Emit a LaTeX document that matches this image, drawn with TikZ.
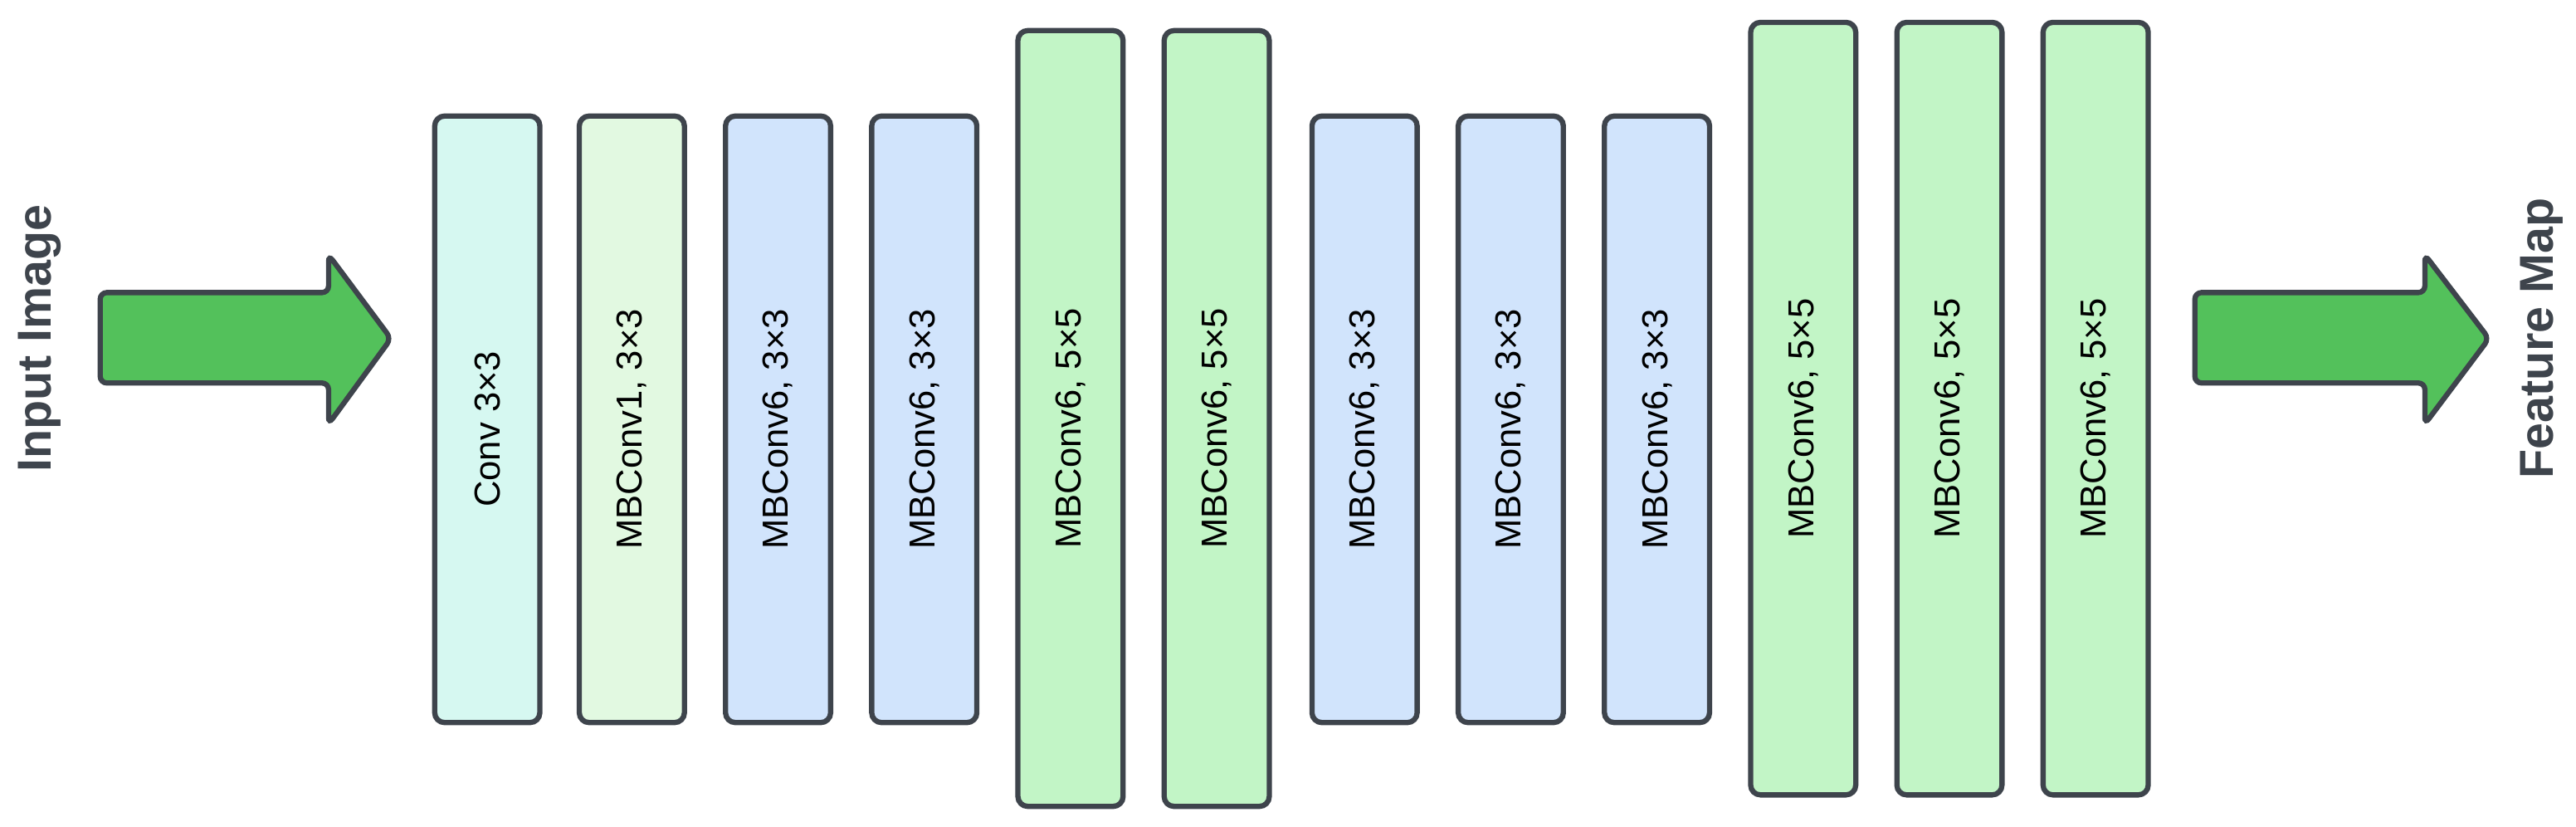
\documentclass[tikz,border=0pt]{standalone}
\usepackage{fontspec}
\setmainfont{Liberation Sans}
\begin{document}
\begin{tikzpicture}[x=1pt,y=-1pt,
  blk/.style={draw=edge,line width=3.2pt,rounded corners=6pt,minimum width=64pt,anchor=north west,inner sep=0pt},
  lbl/.style={rotate=90,font=\fontsize{22}{24}\selectfont,text=black},
  side/.style={rotate=90,font=\bfseries\fontsize{29}{32}\selectfont,text=edge},
  arr/.style={draw=edge,line width=3.2pt,fill=arrg,rounded corners=4pt}]
\definecolor{edge}{HTML}{3E444C}
\definecolor{cconv}{HTML}{D6F8F1}
\definecolor{cmb1}{HTML}{E2F9E1}
\definecolor{cblue}{HTML}{D1E4FC}
\definecolor{cgreen}{HTML}{C2F5C6}
\definecolor{arrg}{HTML}{53C15B}
\useasboundingbox (0,0) rectangle (1568,503);
% arrows
\draw[arr] (61,178) -- (200,178) -- (200,155) -- (238,206) -- (200,258) -- (200,233) -- (61,233) -- cycle;
\draw[arr] (1336,178) -- (1476,178) -- (1476,155) -- (1515,206) -- (1476,258) -- (1476,233) -- (1336,233) -- cycle;
\node[side] (in) at (24,206) {Input Image};
\node[side] (out) at (1547,206) {Feature Map};
% blocks
\foreach \n/\x/\yt/\yb/\c/\t in {
 b1/263/69/438/cconv/{Conv 3×3},
 b2/351/69/438/cmb1/{MBConv1, 3×3},
 b3/440/69/438/cblue/{MBConv6, 3×3},
 b4/529/69/438/cblue/{MBConv6, 3×3},
 b5/618/17/489/cgreen/{MBConv6, 5×5},
 b6/707/17/489/cgreen/{MBConv6, 5×5},
 b7/797/69/438/cblue/{MBConv6, 3×3},
 b8/886/69/438/cblue/{MBConv6, 3×3},
 b9/975/69/438/cblue/{MBConv6, 3×3},
 b10/1064/12/482/cgreen/{MBConv6, 5×5},
 b11/1153/12/482/cgreen/{MBConv6, 5×5},
 b12/1242/12/482/cgreen/{MBConv6, 5×5}}{
  \pgfmathsetmacro\h{\yb-\yt}
  \node[blk,fill=\c,minimum height=\h pt] (\n) at (\x,\yt) {};
  \node[lbl] at ([yshift=-6pt]\n.center) {\t};
}
\end{tikzpicture}
\end{document}
